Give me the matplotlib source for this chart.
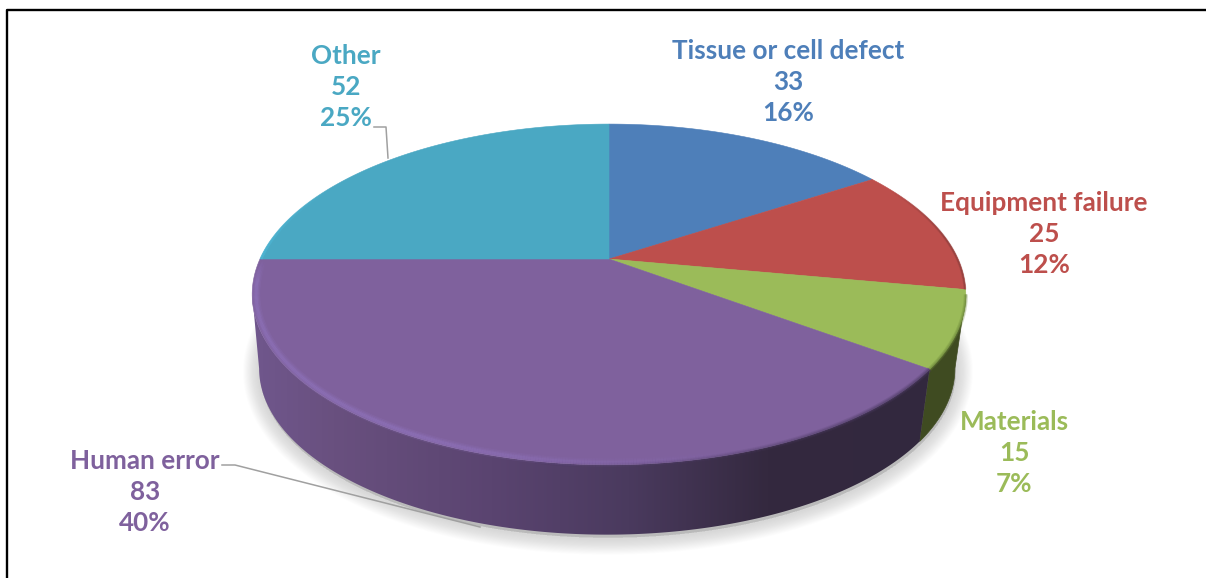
import numpy as np
import matplotlib
matplotlib.use("Agg")
import matplotlib.pyplot as plt
from matplotlib.collections import LineCollection
from matplotlib.colors import LinearSegmentedColormap, to_rgb
from matplotlib.patches import Polygon

plt.rcParams['font.family'] = ['Lato', 'DejaVu Sans']

categories = ["Tissue or cell defect", "Equipment failure", "Materials", "Human error", "Other"]
values = [33, 25, 15, 83, 52]
percents = [16, 12, 7, 40, 25]
colors = ["#4e7fb9", "#bd4f4c", "#9bbb59", "#7f619d", "#4aa8c3"]

# perspective of the pie, in pixels of the picture
CX, CY = 609, 259
RX, RY = 349, 163
K = 0.208
DEPTH, BOTTOM_SCALE, BOTTOM_DX = 75, 0.975, -2
EXT = np.degrees(np.arcsin(K))


def project(deg, scale=1.0, dy=0.0, dx=0.0):
    t = np.radians(deg)
    d = 1 + K * np.cos(t)
    x = CX + dx + scale * RX * np.sin(t) / d
    y = CY + dy - scale * RY * np.cos(t) / d
    return np.column_stack([x, y])


def arc(a, b, scale=1.0, dy=0.0, dx=0.0):
    n = max(int(abs(b - a) * 3), 2)
    return project(np.linspace(a, b, n), scale, dy, dx)


def soft_rim(th, alpha, color, scale, strokes):
    # rim stroke with an alpha that changes along the angle
    pts = project(th, scale)
    segs = np.stack([pts[:-1], pts[1:]], axis=1)
    r, g, b = to_rgb(color)
    for lw, a in strokes:
        rgba = np.column_stack([np.full(len(segs), r), np.full(len(segs), g),
                                np.full(len(segs), b), alpha[:-1] * a])
        ax.add_collection(LineCollection(segs, colors=rgba, lw=lw, zorder=5, capstyle="butt"))


fig = plt.figure(figsize=(12.06, 5.78), dpi=100)
ax = fig.add_axes([0, 0, 1, 1])
ax.set_xlim(0, 1206)
ax.set_ylim(578, 0)
ax.axis("off")

# frame, top and left only
ax.plot([6.5, 6.5, 1206], [578, 10, 10], color="black", lw=1.7, zorder=1)

# soft shadow under the pie
bottom = arc(0, 360, BOTTOM_SCALE, DEPTH, BOTTOM_DX)
for w in np.linspace(34, 4, 15):
    shadow = Polygon(bottom + [1, 3], closed=True, fc="#808080", ec="#808080",
                     lw=w * 0.72, alpha=0.02, zorder=2, joinstyle="round")
    ax.add_patch(shadow)

# side walls
angles = np.cumsum([0] + values) / sum(values) * 360
right_ext = 90 + EXT
left_ext = 270 - EXT
green_end = angles[3]

wall_green = np.vstack([arc(right_ext, green_end),
                        arc(green_end, right_ext, BOTTOM_SCALE, DEPTH, BOTTOM_DX)])
ax.add_patch(Polygon(wall_green, closed=True, fc="#3f4b21", ec="#3f4b21", lw=0.5, zorder=3))

wall_purple = np.vstack([arc(green_end, left_ext),
                         arc(left_ext, green_end, BOTTOM_SCALE, DEPTH, BOTTOM_DX)])
wall_patch = Polygon(wall_purple, closed=True, fc="none", ec="none", zorder=3)
ax.add_patch(wall_patch)
wall_cmap = LinearSegmentedColormap.from_list("wall", [
    (0.0, "#70578d"), (0.12, "#69507f"), (0.35, "#5a4470"),
    (0.55, "#4a3a5e"), (0.75, "#34293f"), (1.0, "#32283e")])
grad = np.linspace(0, 1, 256).reshape(1, -1)
im = ax.imshow(grad, cmap=wall_cmap, extent=[250, 940, 560, 260], aspect="auto", zorder=3)
im.set_clip_path(wall_patch)
ax.set_xlim(0, 1206)
ax.set_ylim(578, 0)

# top faces
for i, c in enumerate(colors):
    pts = np.vstack([[CX, CY], arc(angles[i], angles[i + 1])])
    ax.add_patch(Polygon(pts, closed=True, fc=c, ec=c, lw=0.4, zorder=4))

# bevel: blurred dark edge on the right of the front, light band on the left
th = np.linspace(green_end, 270, 400)
dark = np.clip((190 - th) / 50, 0, 1)
soft_rim(th, dark, "#4f3d66", 1.0, [(4, 0.2), (2.5, 0.3), (1.2, 0.4)])
light = np.clip((th - 160) / 45, 0, 1) * np.clip((270 - th) / 8, 0, 1)
soft_rim(th, light, "#9579c6", 0.989, [(6, 0.15), (4, 0.2), (2.2, 0.3)])

th = np.linspace(right_ext, green_end, 60)
soft_rim(th, np.ones_like(th), "#6f8a3c", 1.0, [(3, 0.3), (1.5, 0.45)])
th = np.linspace(62, angles[2], 80)
soft_rim(th, np.clip((th - 62) / 20, 0, 1), "#7d3a38", 0.998, [(2, 0.25), (1, 0.45)])
th = np.linspace(270, 300, 60)
soft_rim(th, np.clip((300 - th) / 30, 0, 1), "#4fbfe0", 0.997, [(2, 0.5)])

# leader lines
ax.plot([222, 235, 480], [465, 465, 527], color="#a0a0a0", lw=1.1, zorder=6)
ax.plot([374, 386, 388], [127, 127, 158], color="#a0a0a0", lw=1.1, zorder=6)

# labels
label_x = [788, 1044, 1014, 145, 346]
label_y = [82, 234, 453, 492, 87]
for i, name in enumerate(categories):
    ax.text(label_x[i], label_y[i], f"{name}\n{values[i]}\n{percents[i]}%", color=colors[i],
            fontsize=18.8, fontweight="bold", ha="center", va="center",
            linespacing=1.37, zorder=7)

fig.savefig("out.png", dpi=100)
